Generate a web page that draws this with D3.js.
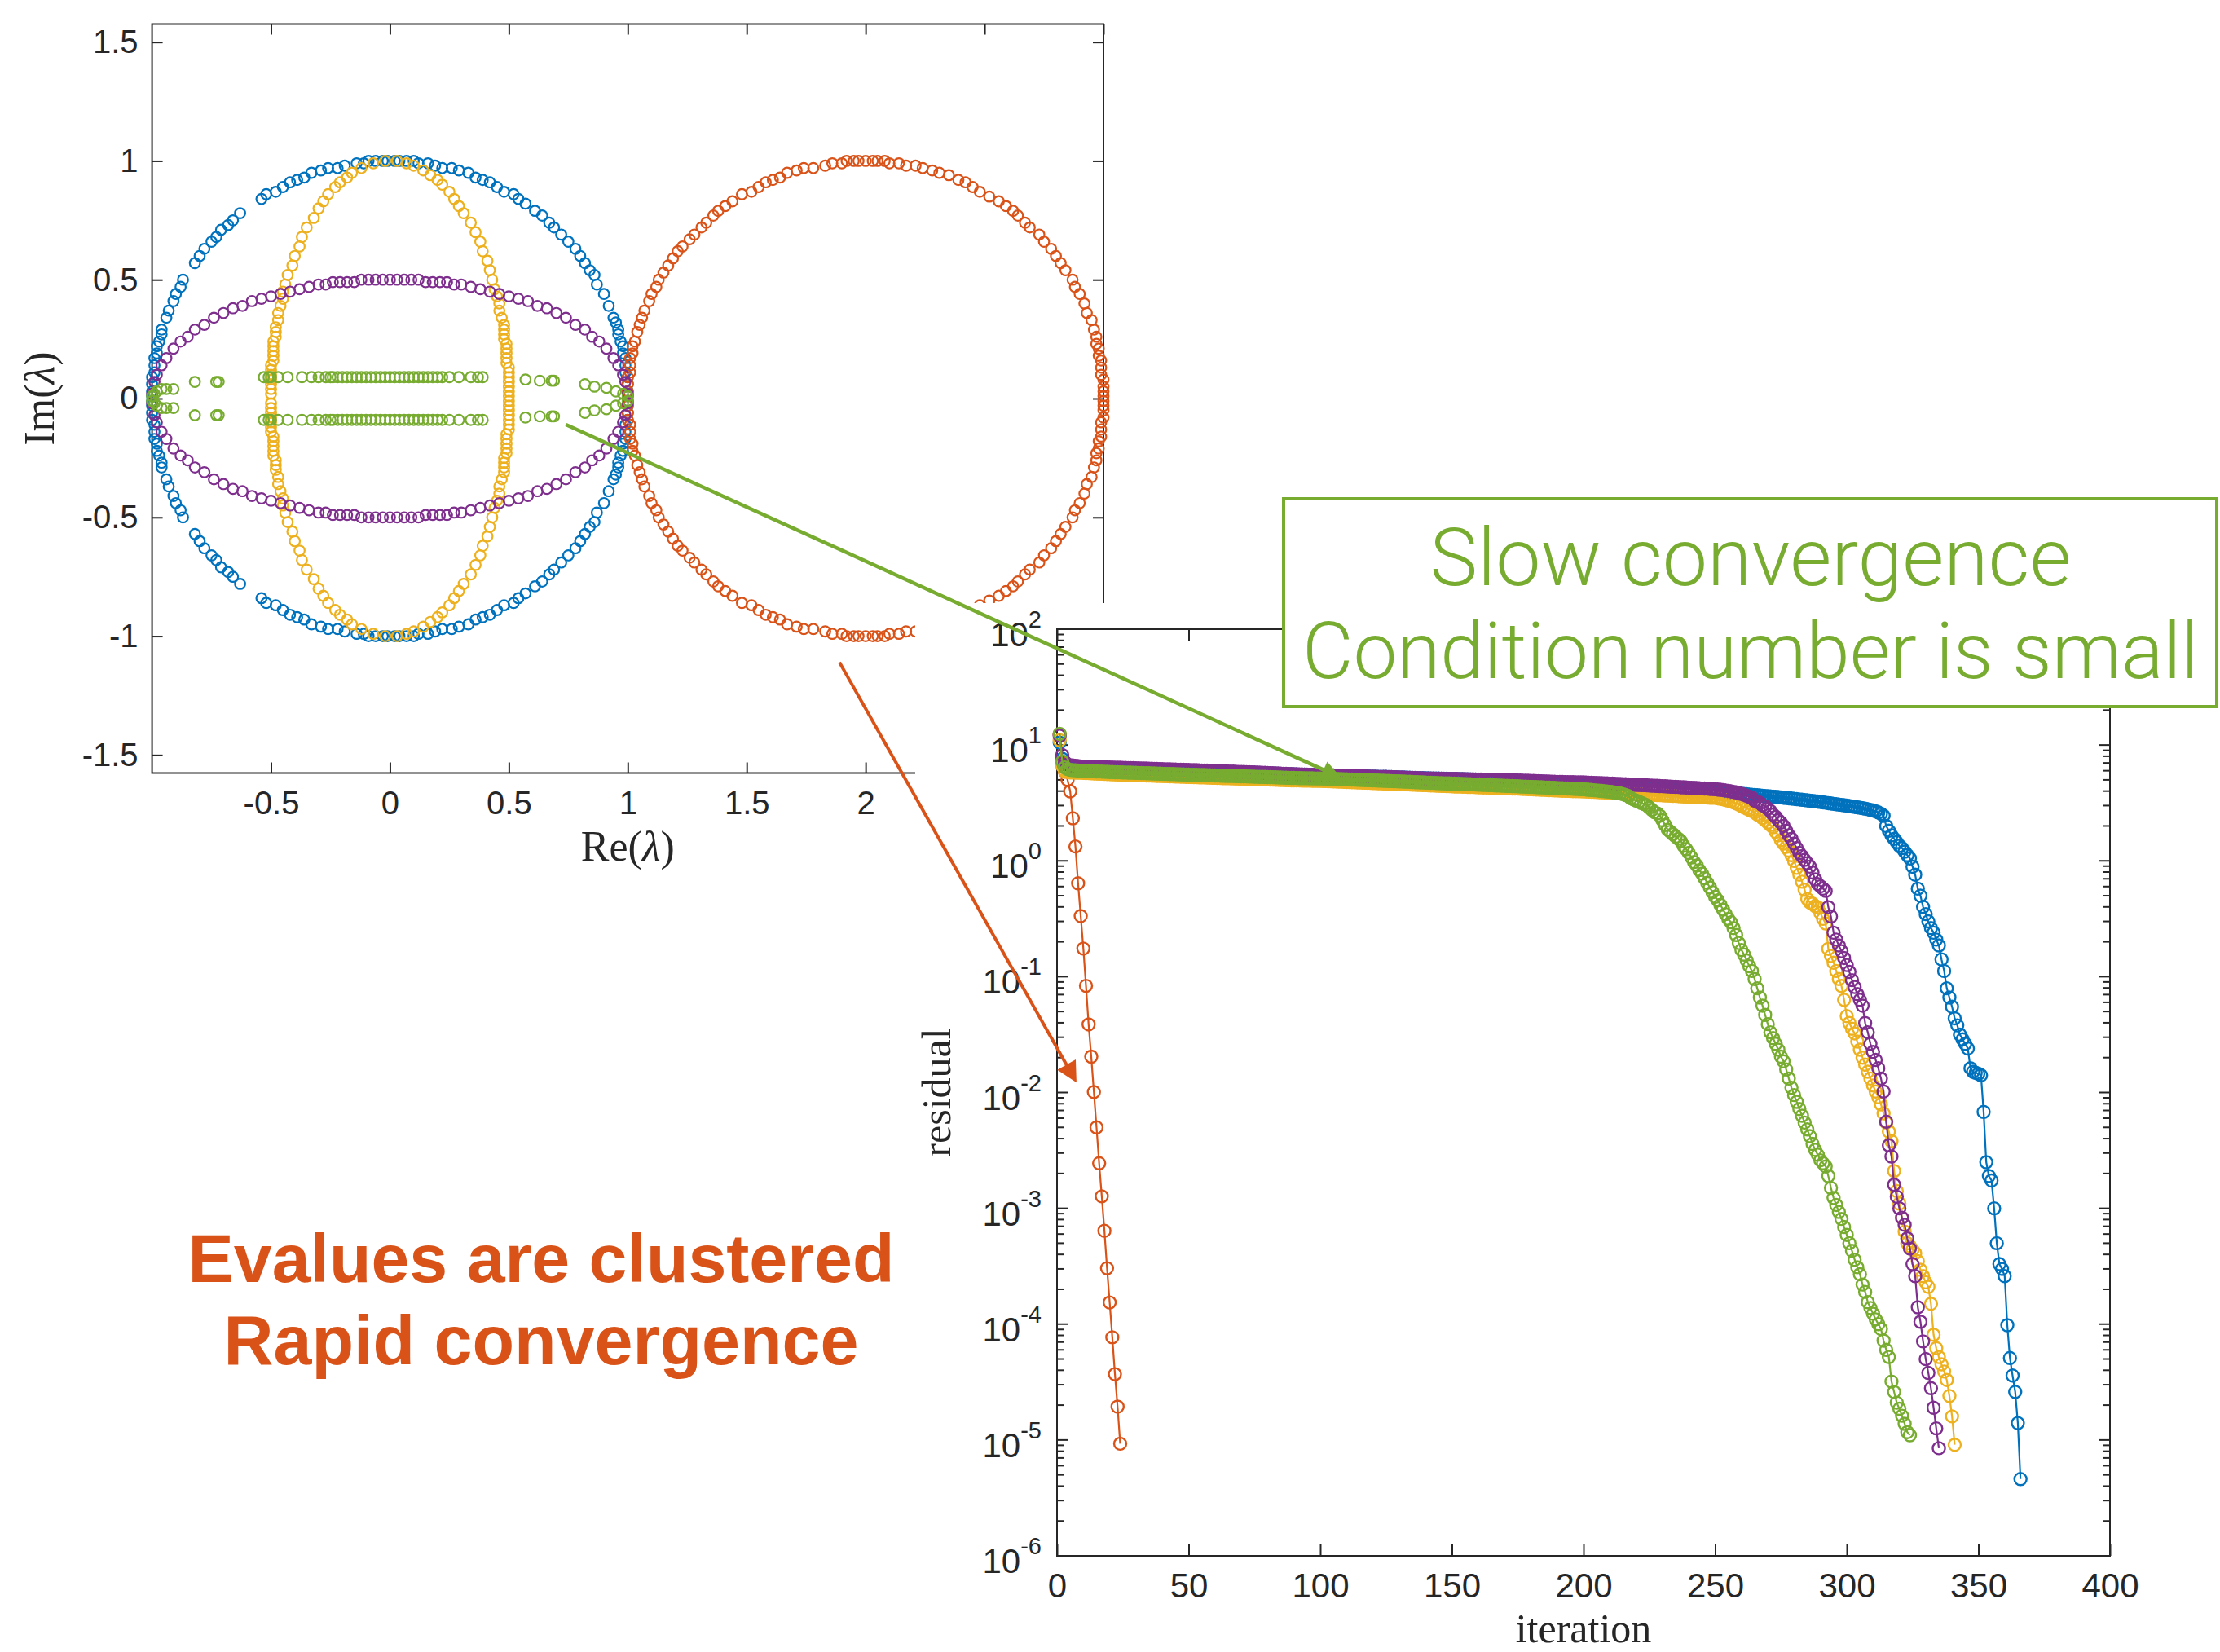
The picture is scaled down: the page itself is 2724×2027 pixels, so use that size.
<!DOCTYPE html>
<html>
<head>
<meta charset="utf-8">
<script src="https://cdn.jsdelivr.net/npm/d3@7/dist/d3.min.js"></script>
<style>
  body { margin: 0; background: #fff; }
</style>
</head>
<body>
<svg id="chart" width="2724" height="2027"></svg>
<script>
// ---------- data: eigenvalues (re, im) of the five test matrices ----------
const eigBlue = [
[1,.01],[1,-.01],[1,.03],[1,-.03],[1,.06],[1,-.06],[1,.09],[1,-.09],[.99,.11],[.99,-.11],[.99,.14],[.99,-.14],[.99,.17],[.99,-.17],
[.98,.19],[.98,-.19],[.98,.22],[.98,-.22],[.97,.24],[.97,-.24],[.96,.27],[.96,-.27],[.96,.29],[.96,-.29],[.95,.32],[.95,-.32],
[.94,.34],[.94,-.34],[.92,.39],[.92,-.39],[.9,.44],[.9,-.44],[.87,.48],[.87,-.48],[.86,.52],[.86,-.52],[.84,.54],[.84,-.54],
[.82,.57],[.82,-.57],[.8,.6],[.8,-.6],[.78,.63],[.78,-.63],[.75,.66],[.75,-.66],[.72,.69],[.72,-.69],[.69,.72],[.69,-.72],
[.67,.74],[.67,-.74],[.64,.77],[.64,-.77],[.61,.79],[.61,-.79],[.57,.82],[.57,-.82],[.54,.84],[.54,-.84],[.52,.86],[.52,-.86],
[.48,.87],[.48,-.87],[.45,.89],[.45,-.89],[.42,.91],[.42,-.91],[.39,.92],[.39,-.92],[.36,.93],[.36,-.93],[.33,.95],[.33,-.95],
[.29,.96],[.29,-.96],[.26,.97],[.26,-.97],[.22,.97],[.22,-.97],[.19,.98],[.19,-.98],[.16,.99],[.16,-.99],[.12,.99],[.12,-.99],
[.1,1],[.1,-1],[.07,1],[.07,-1],[.04,1],[.04,-1],[.02,1],[.02,-1],[-.01,1],[-.01,-1],[-.03,1],[-.03,-1],[-.06,1],[-.06,-1],
[-.09,1],[-.09,-1],[-.11,.99],[-.11,-.99],[-.14,.99],[-.14,-.99],[-.19,.98],[-.19,-.98],[-.22,.97],[-.22,-.97],[-.26,.97],[-.26,-.97],
[-.29,.96],[-.29,-.96],[-.33,.95],[-.33,-.95],[-.36,.93],[-.36,-.93],[-.39,.92],[-.39,-.92],[-.42,.91],[-.42,-.91],[-.45,.89],[-.45,-.89],
[-.48,.87],[-.48,-.87],[-.52,.86],[-.52,-.86],[-.54,.84],[-.54,-.84],[-.63,.78],[-.63,-.78],[-.66,.75],[-.66,-.75],[-.68,.73],[-.68,-.73],
[-.71,.71],[-.71,-.71],[-.73,.68],[-.73,-.68],[-.75,.66],[-.75,-.66],[-.78,.63],[-.78,-.63],[-.8,.6],[-.8,-.6],[-.82,.57],[-.82,-.57],
[-.87,.5],[-.87,-.5],[-.88,.47],[-.88,-.47],[-.9,.44],[-.9,-.44],[-.91,.41],[-.91,-.41],[-.93,.37],[-.93,-.37],[-.94,.34],[-.94,-.34],
[-.96,.29],[-.96,-.29],[-.96,.27],[-.96,-.27],[-.97,.24],[-.97,-.24],[-.98,.22],[-.98,-.22],[-.98,.19],[-.98,-.19],[-.99,.17],[-.99,-.17],
[-.99,.14],[-.99,-.14],[-.99,.11],[-.99,-.11],[-1,.09],[-1,-.09],[-1,.06],[-1,-.06],[-1,.03],[-1,-.03],[-1,.01],[-1,-.01]
];
const eigOrange = [
[3,.01],[3,-.01],[3,.03],[3,-.03],[3,.05],[3,-.05],[3,.08],[3,-.08],[2.99,.1],[2.99,-.1],[2.99,.13],[2.99,-.13],[2.99,.16],[2.99,-.16],
[2.98,.18],[2.98,-.18],[2.98,.21],[2.98,-.21],[2.97,.23],[2.97,-.23],[2.97,.26],[2.97,-.26],[2.96,.29],[2.96,-.29],[2.95,.33],[2.95,-.33],
[2.93,.36],[2.93,-.36],[2.92,.4],[2.92,-.4],[2.9,.44],[2.9,-.44],[2.88,.47],[2.88,-.47],[2.87,.5],[2.87,-.5],[2.84,.54],[2.84,-.54],
[2.82,.57],[2.82,-.57],[2.8,.6],[2.8,-.6],[2.78,.63],[2.78,-.63],[2.75,.66],[2.75,-.66],[2.73,.69],[2.73,-.69],[2.69,.72],[2.69,-.72],
[2.67,.74],[2.67,-.74],[2.64,.77],[2.64,-.77],[2.62,.79],[2.62,-.79],[2.59,.81],[2.59,-.81],[2.56,.83],[2.56,-.83],[2.52,.85],[2.52,-.85],
[2.48,.87],[2.48,-.87],[2.45,.89],[2.45,-.89],[2.42,.91],[2.42,-.91],[2.39,.92],[2.39,-.92],[2.35,.94],[2.35,-.94],[2.31,.95],[2.31,-.95],
[2.28,.96],[2.28,-.96],[2.24,.97],[2.24,-.97],[2.21,.98],[2.21,-.98],[2.17,.98],[2.17,-.98],[2.14,.99],[2.14,-.99],[2.1,.99],[2.1,-.99],
[2.08,1],[2.08,-1],[2.05,1],[2.05,-1],[2.03,1],[2.03,-1],[2,1],[2,-1],[1.97,1],[1.97,-1],[1.95,1],[1.95,-1],[1.92,1],[1.92,-1],
[1.9,.99],[1.9,-.99],[1.86,.99],[1.86,-.99],[1.83,.98],[1.83,-.98],[1.78,.97],[1.78,-.97],[1.74,.97],[1.74,-.97],[1.71,.96],[1.71,-.96],
[1.67,.95],[1.67,-.95],[1.64,.93],[1.64,-.93],[1.61,.92],[1.61,-.92],[1.58,.91],[1.58,-.91],[1.55,.89],[1.55,-.89],[1.52,.87],[1.52,-.87],
[1.48,.86],[1.48,-.86],[1.44,.83],[1.44,-.83],[1.41,.81],[1.41,-.81],[1.38,.79],[1.38,-.79],[1.36,.77],[1.36,-.77],[1.33,.74],[1.33,-.74],
[1.31,.72],[1.31,-.72],[1.28,.69],[1.28,-.69],[1.26,.67],[1.26,-.67],[1.23,.64],[1.23,-.64],[1.21,.62],[1.21,-.62],[1.19,.59],[1.19,-.59],
[1.17,.56],[1.17,-.56],[1.15,.53],[1.15,-.53],[1.13,.5],[1.13,-.5],[1.12,.47],[1.12,-.47],[1.1,.44],[1.1,-.44],[1.09,.41],[1.09,-.41],
[1.07,.37],[1.07,-.37],[1.06,.34],[1.06,-.34],[1.05,.31],[1.05,-.31],[1.04,.28],[1.04,-.28],[1.03,.24],[1.03,-.24],[1.02,.22],[1.02,-.22],
[1.02,.19],[1.02,-.19],[1.01,.17],[1.01,-.17],[1.01,.14],[1.01,-.14],[1.01,.11],[1.01,-.11],[1,.09],[1,-.09],[1,.06],[1,-.06],
[1,.03],[1,-.03],[1,.01],[1,-.01]
];
const eigYellow = [
[.5,.01],[.5,-.01],[.5,.03],[.5,-.03],[.5,.05],[.5,-.05],[.5,.07],[.5,-.07],[.5,.09],[.5,-.09],[.5,.11],[.5,-.11],[.5,.13],[.5,-.13],
[.49,.15],[.49,-.15],[.49,.17],[.49,-.17],[.49,.19],[.49,-.19],[.49,.21],[.49,-.21],[.49,.23],[.49,-.23],[.48,.25],[.48,-.25],
[.48,.27],[.48,-.27],[.48,.29],[.48,-.29],[.48,.31],[.48,-.31],[.47,.34],[.47,-.34],[.46,.37],[.46,-.37],[.46,.4],[.46,-.4],
[.45,.43],[.45,-.43],[.44,.46],[.44,-.46],[.43,.5],[.43,-.5],[.42,.54],[.42,-.54],[.41,.58],[.41,-.58],[.39,.62],[.39,-.62],
[.38,.66],[.38,-.66],[.36,.7],[.36,-.7],[.34,.74],[.34,-.74],[.31,.78],[.31,-.78],[.29,.81],[.29,-.81],[.27,.84],[.27,-.84],
[.25,.87],[.25,-.87],[.22,.9],[.22,-.9],[.2,.92],[.2,-.92],[.17,.94],[.17,-.94],[.14,.96],[.14,-.96],[.1,.98],[.1,-.98],
[.07,.99],[.07,-.99],[.03,1],[.03,-1],
[-.5,.02],[-.5,-.02],[-.5,.04],[-.5,-.04],[-.5,.06],[-.5,-.06],[-.5,.08],[-.5,-.08],[-.5,.1],[-.5,-.1],[-.5,.12],[-.5,-.12],
[-.5,.14],[-.5,-.14],[-.49,.16],[-.49,-.16],[-.49,.18],[-.49,-.18],[-.49,.2],[-.49,-.2],[-.49,.22],[-.49,-.22],[-.49,.24],[-.49,-.24],
[-.48,.26],[-.48,-.26],[-.48,.28],[-.48,-.28],[-.48,.3],[-.48,-.3],[-.47,.33],[-.47,-.33],[-.47,.36],[-.47,-.36],[-.46,.39],[-.46,-.39],
[-.45,.42],[-.45,-.42],[-.45,.45],[-.45,-.45],[-.44,.48],[-.44,-.48],[-.43,.52],[-.43,-.52],[-.41,.56],[-.41,-.56],[-.4,.6],[-.4,-.6],
[-.38,.64],[-.38,-.64],[-.37,.68],[-.37,-.68],[-.35,.72],[-.35,-.72],[-.32,.76],[-.32,-.76],[-.3,.8],[-.3,-.8],[-.28,.83],[-.28,-.83],
[-.26,.86],[-.26,-.86],[-.23,.89],[-.23,-.89],[-.21,.91],[-.21,-.91],[-.18,.93],[-.18,-.93],[-.16,.95],[-.16,-.95],[-.12,.97],[-.12,-.97],
[-.07,.99],[-.07,-.99],[-.02,1],[-.02,-1]
];
const eigPurple = [
[1,.02],[1,-.02],[.99,.07],[.99,-.07],[.98,.1],[.98,-.1],[.96,.14],[.96,-.14],[.94,.17],[.94,-.17],[.91,.21],[.91,-.21],
[.88,.24],[.88,-.24],[.85,.26],[.85,-.26],[.82,.29],[.82,-.29],[.78,.31],[.78,-.31],[.74,.34],[.74,-.34],[.7,.36],[.7,-.36],
[.66,.38],[.66,-.38],[.62,.39],[.62,-.39],[.58,.41],[.58,-.41],[.54,.42],[.54,-.42],[.5,.43],[.5,-.43],[.46,.44],[.46,-.44],
[.42,.45],[.42,-.45],[.38,.46],[.38,-.46],[.34,.47],[.34,-.47],[.3,.48],[.3,-.48],[.27,.48],[.27,-.48],[.24,.49],[.24,-.49],
[.21,.49],[.21,-.49],[.18,.49],[.18,-.49],[.15,.49],[.15,-.49],[.12,.5],[.12,-.5],[.09,.5],[.09,-.5],[.06,.5],[.06,-.5],
[.03,.5],[.03,-.5],[0,.5],[0,-.5],[-.03,.5],[-.03,-.5],[-.06,.5],[-.06,-.5],[-.09,.5],[-.09,-.5],[-.12,.5],[-.12,-.5],
[-.15,.49],[-.15,-.49],[-.18,.49],[-.18,-.49],[-.21,.49],[-.21,-.49],[-.24,.49],[-.24,-.49],[-.27,.48],[-.27,-.48],[-.3,.48],[-.3,-.48],
[-.34,.47],[-.34,-.47],[-.38,.46],[-.38,-.46],[-.42,.45],[-.42,-.45],[-.46,.44],[-.46,-.44],[-.5,.43],[-.5,-.43],[-.54,.42],[-.54,-.42],
[-.58,.41],[-.58,-.41],[-.62,.39],[-.62,-.39],[-.66,.38],[-.66,-.38],[-.7,.36],[-.7,-.36],[-.74,.34],[-.74,-.34],[-.78,.31],[-.78,-.31],
[-.82,.29],[-.82,-.29],[-.85,.26],[-.85,-.26],[-.88,.24],[-.88,-.24],[-.91,.21],[-.91,-.21],[-.94,.17],[-.94,-.17],[-.96,.14],[-.96,-.14],
[-.98,.1],[-.98,-.1],[-.99,.07],[-.99,-.07],[-1,.02],[-1,-.02]
];
const eigGreen = [
[-1,.01],[-1,-.01],[-.99,.02],[-.99,-.02],[-.98,.03],[-.98,-.03],[-.96,.04],[-.96,-.04],[-.94,.04],[-.94,-.04],[-.91,.04],[-.91,-.04],
[-.82,.07],[-.82,-.07],[-.73,.07],[-.73,-.07],[-.72,.07],[-.72,-.07],
[-.53,.09],[-.53,-.09],[-.51,.09],[-.51,-.09],[-.5,.09],[-.5,-.09],[-.47,.09],[-.47,-.09],[-.43,.09],[-.43,-.09],[-.37,.09],[-.37,-.09],
[-.33,.09],[-.33,-.09],[-.3,.09],[-.3,-.09],[-.27,.09],[-.27,-.09],[-.25,.09],[-.25,-.09],
[-.24,.09],[-.24,-.09],[-.22,.09],[-.22,-.09],[-.2,.09],[-.2,-.09],[-.18,.09],[-.18,-.09],[-.16,.09],[-.16,-.09],[-.14,.09],[-.14,-.09],
[-.12,.09],[-.12,-.09],[-.1,.09],[-.1,-.09],[-.08,.09],[-.08,-.09],[-.06,.09],[-.06,-.09],[-.04,.09],[-.04,-.09],[-.02,.09],[-.02,-.09],
[0,.09],[0,-.09],[.02,.09],[.02,-.09],[.04,.09],[.04,-.09],[.06,.09],[.06,-.09],[.08,.09],[.08,-.09],[.1,.09],[.1,-.09],
[.12,.09],[.12,-.09],[.14,.09],[.14,-.09],[.16,.09],[.16,-.09],[.18,.09],[.18,-.09],[.2,.09],[.2,-.09],[.22,.09],[.22,-.09],
[.25,.09],[.25,-.09],[.29,.09],[.29,-.09],[.34,.09],[.34,-.09],[.37,.09],[.37,-.09],[.39,.09],[.39,-.09],
[.57,.08],[.57,-.08],[.63,.075],[.63,-.075],[.68,.075],[.68,-.075],[.69,.075],[.69,-.075],[.82,.06],[.82,-.06],[.86,.05],[.86,-.05],
[.91,.045],[.91,-.045],[.95,.03],[.95,-.03],[.98,.02],[.98,-.02],[1,.01],[1,-.01]
];

// ---------- data: residual per iteration (iteration = index + 1) ----------
const resBlue = [
10.5,7.6,6.8,6.6,6.5,6.47,6.45,6.45,6.42,6.4,
6.4,6.38,6.38,6.36,6.34,6.34,6.33,6.31,6.3,6.3,
6.29,6.27,6.27,6.26,6.24,6.23,6.23,6.21,6.2,6.2,
6.19,6.18,6.16,6.16,6.14,6.13,6.12,6.12,6.1,6.09,
6.08,6.08,6.06,6.05,6.04,6.04,6.02,6.01,6.0,6.0,
5.99,5.98,5.96,5.95,5.94,5.93,5.92,5.91,5.9,5.88,
5.87,5.86,5.86,5.85,5.84,5.82,5.81,5.8,5.8,5.79,
5.78,5.77,5.76,5.75,5.75,5.73,5.72,5.71,5.7,5.69,
5.68,5.67,5.66,5.64,5.63,5.62,5.61,5.6,5.59,5.58,
5.57,5.56,5.56,5.55,5.54,5.53,5.52,5.51,5.5,5.5,
5.49,5.48,5.47,5.46,5.46,5.45,5.44,5.43,5.42,5.42,
5.41,5.4,5.39,5.38,5.38,5.37,5.36,5.35,5.34,5.33,
5.33,5.32,5.31,5.3,5.3,5.29,5.28,5.27,5.26,5.25,
5.25,5.24,5.23,5.22,5.21,5.2,5.19,5.18,5.18,5.17,
5.16,5.15,5.14,5.14,5.13,5.12,5.11,5.11,5.1,5.1,
5.09,5.08,5.07,5.07,5.06,5.05,5.04,5.03,5.03,5.02,
5.01,5.0,4.99,4.99,4.98,4.97,4.96,4.96,4.95,4.94,
4.93,4.92,4.92,4.91,4.9,4.89,4.88,4.87,4.86,4.85,
4.84,4.83,4.82,4.81,4.8,4.79,4.78,4.77,4.76,4.75,
4.74,4.73,4.72,4.71,4.7,4.69,4.67,4.66,4.64,4.62,
4.61,4.6,4.59,4.58,4.57,4.56,4.55,4.53,4.52,4.51,
4.5,4.49,4.48,4.47,4.46,4.45,4.43,4.42,4.41,4.4,
4.39,4.38,4.37,4.36,4.35,4.33,4.32,4.31,4.3,4.28,
4.27,4.26,4.25,4.23,4.22,4.21,4.2,4.18,4.17,4.16,
4.14,4.13,4.11,4.1,4.08,4.07,4.05,4.04,4.02,4.0,
3.98,3.96,3.94,3.92,3.9,3.88,3.86,3.84,3.82,3.8,
3.78,3.76,3.74,3.72,3.7,3.69,3.67,3.65,3.63,3.62,
3.6,3.58,3.57,3.55,3.53,3.51,3.49,3.47,3.45,3.43,
3.41,3.39,3.37,3.35,3.33,3.31,3.29,3.27,3.25,3.22,
3.2,3.18,3.15,3.13,3.1,3.08,3.06,3.04,3.02,3.0,
2.97,2.95,2.92,2.9,2.87,2.85,2.82,2.79,2.76,2.72,
2.68,2.62,2.55,
2.45,2.0,1.82,1.66,1.55,1.45,1.35,1.29,1.2,1.12,
1.05,0.89,0.76,0.575,0.5,0.4,0.347,0.3,0.263,0.24,
0.209,0.186,0.141,0.112,0.0794,0.066,0.055,0.0437,0.038,0.0316,
0.0288,0.0263,0.024,0.0162,0.0151,0.0148,0.0145,0.0141,6.8e-3,2.5e-3,
1.9e-3,1.74e-3,1e-3,5e-4,3.3e-4,3e-4,2.6e-4,9.8e-5,5.1e-5,3.6e-5,
2.6e-5,1.4e-5,4.6e-6
];
const resOrange = [
12.3,6.9,5.9,5.0,3.98,2.33,1.33,0.64,0.334,0.175,
0.0834,0.0387,0.0204,0.0101,5e-3,2.45e-3,1.27e-3,6.4e-4,3.04e-4,1.54e-4,
7.7e-5,3.7e-5,1.94e-5,9.3e-6
];
const resYellow = [
11,6.6,5.95,5.85,5.8,5.79,5.78,5.77,5.76,5.75,
5.73,5.72,5.7,5.69,5.68,5.66,5.65,5.63,5.62,5.6,
5.59,5.58,5.57,5.56,5.55,5.54,5.53,5.52,5.51,5.5,
5.49,5.48,5.47,5.46,5.45,5.44,5.43,5.42,5.41,5.4,
5.39,5.38,5.37,5.36,5.35,5.34,5.33,5.32,5.31,5.3,
5.29,5.28,5.27,5.26,5.25,5.25,5.24,5.23,5.22,5.21,
5.2,5.19,5.18,5.18,5.17,5.16,5.15,5.14,5.14,5.13,
5.12,5.11,5.1,5.1,5.09,5.08,5.07,5.06,5.05,5.04,
5.03,5.02,5.01,5.0,4.99,4.98,4.97,4.96,4.95,4.95,
4.94,4.94,4.93,4.93,4.92,4.92,4.91,4.91,4.9,4.9,
4.89,4.88,4.87,4.86,4.85,4.84,4.83,4.82,4.81,4.8,
4.79,4.78,4.77,4.76,4.75,4.74,4.73,4.72,4.71,4.7,
4.69,4.68,4.67,4.66,4.65,4.64,4.63,4.62,4.61,4.6,
4.59,4.58,4.57,4.56,4.55,4.54,4.53,4.52,4.51,4.5,
4.49,4.48,4.47,4.46,4.45,4.44,4.43,4.42,4.41,4.4,
4.39,4.38,4.38,4.37,4.36,4.35,4.34,4.34,4.33,4.32,
4.31,4.3,4.3,4.29,4.28,4.27,4.26,4.26,4.25,4.24,
4.23,4.22,4.21,4.2,4.2,4.19,4.18,4.17,4.16,4.15,
4.14,4.13,4.12,4.11,4.1,4.09,4.08,4.07,4.06,4.05,
4.04,4.03,4.03,4.02,4.01,4.0,4.0,3.99,3.99,3.98,
3.97,3.96,3.95,3.94,3.93,3.92,3.91,3.9,3.89,3.88,
3.87,3.86,3.85,3.84,3.83,3.82,3.81,3.8,3.79,3.78,
3.77,3.76,3.75,3.74,3.73,3.72,3.71,3.7,3.69,3.68,
3.67,3.66,3.65,3.64,3.63,3.62,3.61,3.6,3.59,3.58,
3.57,3.56,3.55,3.55,3.54,3.53,3.52,3.51,3.51,3.5,
3.47,3.44,3.4,3.36,3.31,3.26,3.2,3.13,3.06,2.98,
2.9,2.83,2.76,
2.69,2.63,2.51,2.45,2.34,2.24,2.14,2.04,1.95,1.78,
1.66,1.51,1.41,1.32,1.23,1.12,1.0,0.87,0.76,0.66,
0.562,0.468,0.437,0.427,0.407,0.398,0.355,0.316,0.288,0.174,
0.151,0.132,0.112,0.0955,0.0832,0.063,0.0457,0.0398,0.0355,0.0324,
0.0275,0.0234,0.02,0.0174,0.0151,0.0132,0.0115,0.0102,9.1e-3,7.9e-3,
6.6e-3,5.5e-3,4.6e-3,3.8e-3,2.1e-3,1.41e-3,1.1e-3,8.3e-4,6.3e-4,5e-4,
4.7e-4,4.4e-4,4.1e-4,3.5e-4,2.95e-4,2.6e-4,2.3e-4,2.1e-4,1.5e-4,8.1e-5,
6.2e-5,5.2e-5,4.5e-5,3.9e-5,3.3e-5,2.4e-5,1.6e-5,9.1e-6
];
const resPurple = [
12,8.2,7.1,6.8,6.7,6.65,6.6,6.57,6.53,6.5,
6.49,6.49,6.47,6.47,6.45,6.45,6.43,6.42,6.42,6.4,
6.39,6.38,6.37,6.36,6.35,6.34,6.33,6.32,6.31,6.3,
6.29,6.28,6.27,6.26,6.25,6.24,6.22,6.21,6.2,6.19,
6.18,6.17,6.16,6.15,6.14,6.13,6.12,6.11,6.1,6.1,
6.08,6.07,6.06,6.05,6.03,6.02,6.01,6.0,5.99,5.97,
5.96,5.95,5.94,5.92,5.91,5.9,5.89,5.87,5.86,5.85,
5.84,5.83,5.82,5.81,5.8,5.78,5.77,5.76,5.75,5.73,
5.72,5.71,5.69,5.68,5.67,5.65,5.64,5.63,5.61,5.6,
5.59,5.58,5.57,5.56,5.55,5.54,5.53,5.52,5.51,5.5,
5.49,5.48,5.48,5.47,5.46,5.45,5.44,5.43,5.42,5.42,
5.41,5.4,5.39,5.38,5.38,5.37,5.36,5.35,5.34,5.34,
5.33,5.32,5.31,5.3,5.3,5.29,5.28,5.27,5.26,5.25,
5.24,5.23,5.22,5.21,5.2,5.19,5.18,5.17,5.16,5.15,
5.14,5.14,5.13,5.12,5.11,5.11,5.1,5.1,5.1,5.1,
5.09,5.09,5.08,5.07,5.07,5.06,5.06,5.05,5.04,5.04,
5.03,5.02,5.02,5.01,5.0,5.0,4.99,4.98,4.98,4.97,
4.96,4.96,4.95,4.95,4.94,4.93,4.92,4.91,4.91,4.9,
4.89,4.88,4.87,4.86,4.85,4.84,4.83,4.82,4.81,4.8,
4.8,4.79,4.78,4.78,4.77,4.77,4.76,4.76,4.75,4.75,
4.74,4.73,4.72,4.71,4.7,4.69,4.68,4.67,4.66,4.65,
4.64,4.62,4.61,4.6,4.59,4.58,4.57,4.56,4.54,4.53,
4.52,4.51,4.5,4.49,4.47,4.46,4.45,4.44,4.42,4.41,
4.4,4.39,4.37,4.36,4.35,4.34,4.32,4.31,4.3,4.29,
4.27,4.26,4.25,4.24,4.22,4.21,4.2,4.18,4.17,4.15,
4.13,4.11,4.08,4.05,4.02,3.98,3.94,3.9,3.85,3.79,
3.72,3.65,3.58,3.5,
3.31,3.24,3.16,3.02,2.95,2.82,2.69,2.51,2.4,2.24,
2.14,2.0,1.82,1.66,1.55,1.41,1.29,1.17,1.1,1.02,
0.955,0.891,0.794,0.692,0.631,0.603,0.575,0.55,0.398,0.331,
0.24,0.209,0.186,0.166,0.145,0.126,0.11,0.0933,0.0813,0.0708,
0.0631,0.0562,0.0398,0.0331,0.0263,0.0224,0.0191,0.0162,0.0132,0.0102,
5.6e-3,3.5e-3,2.8e-3,1.6e-3,1.26e-3,1e-3,8.3e-4,7.2e-4,5.5e-4,4.5e-4,
3.3e-4,2.6e-4,1.4e-4,1.05e-4,7.1e-5,5e-5,3.8e-5,2.8e-5,1.9e-5,1.26e-5,
8.5e-6
];
const resGreen = [
12.5,7.2,6.4,6.2,6.1,6.07,6.05,6.02,6.0,5.97,
5.96,5.95,5.94,5.93,5.92,5.91,5.9,5.88,5.87,5.85,
5.84,5.83,5.82,5.81,5.8,5.79,5.78,5.77,5.76,5.75,
5.74,5.73,5.72,5.71,5.7,5.69,5.68,5.67,5.66,5.65,
5.64,5.63,5.62,5.61,5.6,5.59,5.58,5.57,5.56,5.55,
5.54,5.53,5.52,5.51,5.5,5.5,5.49,5.48,5.47,5.46,
5.45,5.44,5.43,5.42,5.42,5.41,5.4,5.39,5.38,5.37,
5.37,5.36,5.35,5.34,5.33,5.32,5.31,5.3,5.3,5.29,
5.28,5.27,5.26,5.25,5.24,5.23,5.22,5.21,5.2,5.2,
5.19,5.18,5.18,5.17,5.17,5.16,5.16,5.15,5.15,5.15,
5.14,5.13,5.12,5.11,5.1,5.09,5.08,5.07,5.06,5.05,
5.04,5.03,5.02,5.01,5.0,4.99,4.98,4.97,4.96,4.95,
4.94,4.93,4.92,4.91,4.9,4.89,4.88,4.87,4.86,4.85,
4.84,4.83,4.82,4.81,4.8,4.78,4.77,4.76,4.75,4.74,
4.73,4.72,4.71,4.7,4.69,4.68,4.67,4.66,4.66,4.65,
4.64,4.63,4.62,4.61,4.6,4.59,4.58,4.57,4.56,4.55,
4.54,4.53,4.52,4.51,4.5,4.49,4.48,4.47,4.46,4.45,
4.44,4.43,4.42,4.41,4.4,4.39,4.38,4.37,4.36,4.35,
4.34,4.33,4.32,4.31,4.3,4.29,4.28,4.27,4.26,4.25,
4.24,4.23,4.22,4.21,4.2,4.19,4.18,4.17,4.16,4.15,
4.13,4.11,4.09,4.07,4.05,4.03,4.01,3.99,3.97,3.95,
3.92,3.89,3.86,3.82,3.77,3.7,
3.63,3.47,3.39,3.31,3.24,3.16,3.09,3.02,2.88,2.75,
2.63,2.57,2.45,2.24,2.04,1.86,1.78,1.7,1.62,1.55,
1.48,1.35,1.26,1.17,1.07,0.977,0.912,0.832,0.776,0.708,
0.646,0.589,0.537,0.49,0.457,0.417,0.38,0.347,0.316,0.295,
0.263,0.229,0.195,0.17,0.155,0.138,0.123,0.112,0.0955,0.0794,
0.066,0.0562,0.0468,0.0389,0.0331,0.0295,0.0263,0.0234,0.0204,0.0186,
0.0158,0.0132,0.011,9.5e-3,8.3e-3,7.2e-3,6.3e-3,5.5e-3,4.8e-3,4.2e-3,
3.6e-3,3.2e-3,2.9e-3,2.6e-3,2.45e-3,2.3e-3,1.9e-3,1.5e-3,1.23e-3,1.07e-3,
9.3e-4,8.1e-4,6.9e-4,5.9e-4,5e-4,4.3e-4,3.6e-4,3.1e-4,2.7e-4,2.2e-4,
1.9e-4,1.55e-4,1.38e-4,1.23e-4,1.1e-4,1e-4,9.1e-5,7.2e-5,6e-5,5.2e-5,
3.2e-5,2.6e-5,2.1e-5,1.86e-5,1.62e-5,1.38e-5,1.17e-5,1.1e-5
];

// ---------- axis ranges and ticks ----------
const reDomain = [-1, 3];
const imDomain = [-1.576, 1.576];
const reTicks = [-0.5, 0, 0.5, 1, 1.5, 2, 2.5, 3];
const imTicks = [-1.5, -1, -0.5, 0, 0.5, 1, 1.5];
const iterDomain = [0, 400];
const iterTicks = [0, 50, 100, 150, 200, 250, 300, 350, 400];
const resExponents = [-6, -5, -4, -3, -2, -1, 0, 1, 2];

// annotation anchors (in data units of each panel)
const greenFrom = [0.74, -0.11], greenTo = [108, 5.2];     // eig plane -> residual plot
const orangeFrom = [1.89, -1.11], orangeTo = [7.4, 0.0122];

// MATLAB default colour order
const C = { blue: '#0072BD', orange: '#D95319', yellow: '#EDB120', purple: '#7E2F8E', green: '#77AC30' };
const AX = '#262626';
const sans = '"Liberation Sans", Arial, Helvetica, sans-serif';
const serif = '"Liberation Serif", "Times New Roman", serif';

const svg = d3.select('#chart');
svg.append('rect').attr('width', 2724).attr('height', 2027).attr('fill', '#fff');

function styleAxis(g, size) {
  g.select('.domain').remove();
  g.selectAll('.tick line').attr('stroke', AX).attr('stroke-width', 2);
  g.selectAll('.tick text').style('font-family', sans).style('font-size', size + 'px').style('fill', AX);
}

// ================= left panel: eigenvalues =================
const E = { left: 186.6, right: 1354, top: 29.5, bottom: 948.5 };
const xE = d3.scaleLinear().domain(reDomain).range([E.left, E.right]);
const yE = d3.scaleLinear().domain(imDomain).range([E.bottom, E.top]);
const gE = svg.append('g');
const fmt = d => String(d);

gE.append('g').attr('transform', `translate(0,${E.bottom})`)
  .call(d3.axisBottom(xE).tickValues(reTicks).tickSize(-13).tickSizeOuter(0).tickPadding(22).tickFormat(fmt))
  .call(g => styleAxis(g, 40));
gE.append('g').attr('transform', `translate(0,${E.top})`)
  .call(d3.axisTop(xE).tickValues(reTicks).tickSize(-13).tickSizeOuter(0).tickFormat(''))
  .call(g => styleAxis(g, 40));
gE.append('g').attr('transform', `translate(${E.left},0)`)
  .call(d3.axisLeft(yE).tickValues(imTicks).tickSize(-13).tickSizeOuter(0).tickPadding(17).tickFormat(fmt))
  .call(g => styleAxis(g, 40));
gE.append('g').attr('transform', `translate(${E.right},0)`)
  .call(d3.axisRight(yE).tickValues(imTicks).tickSize(-13).tickSizeOuter(0).tickFormat(''))
  .call(g => styleAxis(g, 40));
gE.append('rect').attr('x', E.left).attr('y', E.top)
  .attr('width', E.right - E.left).attr('height', E.bottom - E.top)
  .attr('fill', 'none').attr('stroke', AX).attr('stroke-width', 2);

[[eigBlue, C.blue], [eigOrange, C.orange], [eigYellow, C.yellow], [eigPurple, C.purple], [eigGreen, C.green]]
  .forEach(([pts, col]) => {
    gE.append('g').selectAll('circle').data(pts).enter().append('circle')
      .attr('cx', d => xE(d[0])).attr('cy', d => yE(d[1])).attr('r', 6.3)
      .attr('fill', 'none').attr('stroke', col).attr('stroke-width', 2.2);
  });

// axis labels (LaTeX style)
const reLab = gE.append('text').attr('x', (E.left + E.right) / 2).attr('y', 1056)
  .attr('text-anchor', 'middle').style('font-family', serif).style('font-size', '52px').style('fill', AX);
reLab.append('tspan').text('Re(');
reLab.append('tspan').style('font-style', 'italic').text('λ');
reLab.append('tspan').text(')');
const imLab = gE.append('text').attr('transform', `translate(66,${(E.top + E.bottom) / 2}) rotate(-90)`)
  .attr('text-anchor', 'middle').style('font-family', serif).style('font-size', '52px').style('fill', AX);
imLab.append('tspan').text('Im(');
imLab.append('tspan').style('font-style', 'italic').text('λ');
imLab.append('tspan').text(')');

// ================= right panel: residual history =================
// white figure background pasted over the corner of the left panel
svg.append('rect').attr('x', 1123).attr('y', 740).attr('width', 2724 - 1123).attr('height', 2027 - 740).attr('fill', '#fff');

const R = { left: 1297, right: 2589, top: 772, bottom: 1909 };
const xR = d3.scaleLinear().domain(iterDomain).range([R.left, R.right]);
const yR = d3.scaleLog().domain([Math.pow(10, resExponents[0]), Math.pow(10, resExponents[resExponents.length - 1])]).range([R.bottom, R.top]);
const gR = svg.append('g');

gR.append('g').attr('transform', `translate(0,${R.bottom})`)
  .call(d3.axisBottom(xR).tickValues(iterTicks).tickSize(-14).tickSizeOuter(0).tickPadding(21).tickFormat(fmt))
  .call(g => styleAxis(g, 42));
gR.append('g').attr('transform', `translate(0,${R.top})`)
  .call(d3.axisTop(xR).tickValues(iterTicks).tickSize(-14).tickSizeOuter(0).tickFormat(''))
  .call(g => styleAxis(g, 42));

// log ticks, major + minor, both sides
const logTicks = [];
resExponents.forEach((e, i) => {
  logTicks.push({ v: Math.pow(10, e), major: true });
  if (i < resExponents.length - 1) for (let k = 2; k <= 9; k++) logTicks.push({ v: k * Math.pow(10, e), major: false });
});
gR.append('g').selectAll('line.tl').data(logTicks).enter().append('line')
  .attr('x1', R.left).attr('x2', d => R.left + (d.major ? 14 : 8))
  .attr('y1', d => yR(d.v)).attr('y2', d => yR(d.v)).attr('stroke', AX).attr('stroke-width', 2);
gR.append('g').selectAll('line.tr').data(logTicks).enter().append('line')
  .attr('x1', R.right).attr('x2', d => R.right - (d.major ? 14 : 8))
  .attr('y1', d => yR(d.v)).attr('y2', d => yR(d.v)).attr('stroke', AX).attr('stroke-width', 2);
const yLab = gR.append('g').selectAll('text').data(resExponents).enter().append('text')
  .attr('x', R.left - 19).attr('y', e => yR(Math.pow(10, e)) + 21)
  .attr('text-anchor', 'end').style('font-family', sans).style('font-size', '42px').style('fill', AX);
yLab.append('tspan').text('10');
yLab.append('tspan').attr('dy', -23).style('font-size', '29px').text(e => String(e));

gR.append('rect').attr('x', R.left).attr('y', R.top)
  .attr('width', R.right - R.left).attr('height', R.bottom - R.top)
  .attr('fill', 'none').attr('stroke', AX).attr('stroke-width', 2);

const line = d3.line().x((d, i) => xR(i + 1)).y(d => yR(d));
[[resBlue, C.blue], [resOrange, C.orange], [resYellow, C.yellow], [resPurple, C.purple], [resGreen, C.green]]
  .forEach(([vals, col]) => {
    const g = gR.append('g');
    g.append('path').datum(vals).attr('d', line).attr('fill', 'none').attr('stroke', col).attr('stroke-width', 2.2);
    g.selectAll('circle').data(vals).enter().append('circle')
      .attr('cx', (d, i) => xR(i + 1)).attr('cy', d => yR(d)).attr('r', 7.5)
      .attr('fill', 'none').attr('stroke', col).attr('stroke-width', 2.4);
  });

gR.append('text').attr('x', (R.left + R.right) / 2).attr('y', 2015).attr('text-anchor', 'middle')
  .style('font-family', serif).style('font-size', '50px').style('fill', AX).text('iteration');
gR.append('text').attr('transform', `translate(1166,${(R.top + R.bottom) / 2}) rotate(-90)`).attr('text-anchor', 'middle')
  .style('font-family', serif).style('font-size', '50px').style('fill', AX).text('residual');

// ================= annotations =================
// size a text so its natural width matches the reference width (never above maxSize)
function fitText(sel, width, maxSize) {
  sel.style('font-size', maxSize + 'px');
  const w = sel.node().getComputedTextLength();
  if (w > 0) sel.style('font-size', Math.min(maxSize * 1.04, maxSize * width / w) + 'px');
}

const box = svg.append('g');
box.append('rect').attr('x', 1575).attr('y', 612).attr('width', 1145).attr('height', 255)
  .attr('fill', '#fff').attr('stroke', C.green).attr('stroke-width', 4);
[['Slow convergence', 718, 787], ['Condition number is small', 832, 1100]].forEach(([t, y, w]) => {
  const tx = box.append('text').attr('x', 2148).attr('y', y).attr('text-anchor', 'middle')
    .style('font-family', 'Roboto, "Open Sans", Lato, sans-serif').style('font-weight', 300)
    .style('fill', C.green).text(t);
  fitText(tx, w, 100);
});

[['Evalues are clustered', 1573, 867], ['Rapid convergence', 1674, 779]].forEach(([t, y, w]) => {
  const tx = svg.append('text').attr('x', 664).attr('y', y).attr('text-anchor', 'middle')
    .style('font-family', sans).style('font-weight', 700)
    .style('fill', C.orange).text(t);
  fitText(tx, w, 86);
});

function arrow(x1, y1, x2, y2, col, w, headLen, headW) {
  const len = Math.hypot(x2 - x1, y2 - y1), ux = (x2 - x1) / len, uy = (y2 - y1) / len;
  const bx = x2 - ux * headLen, by = y2 - uy * headLen;
  svg.append('line').attr('x1', x1).attr('y1', y1).attr('x2', bx + ux * 2).attr('y2', by + uy * 2)
    .attr('stroke', col).attr('stroke-width', w);
  const pts = [[x2, y2], [bx - uy * headW / 2, by + ux * headW / 2], [bx + uy * headW / 2, by - ux * headW / 2]];
  svg.append('polygon').attr('points', pts.map(p => p.join(',')).join(' ')).attr('fill', col);
}
arrow(xE(greenFrom[0]), yE(greenFrom[1]), xR(greenTo[0]), yR(greenTo[1]), C.green, 4.5, 24, 22);
arrow(xE(orangeFrom[0]), yE(orangeFrom[1]), xR(orangeTo[0]), yR(orangeTo[1]), C.orange, 4, 25, 26);
</script>
</body>
</html>
